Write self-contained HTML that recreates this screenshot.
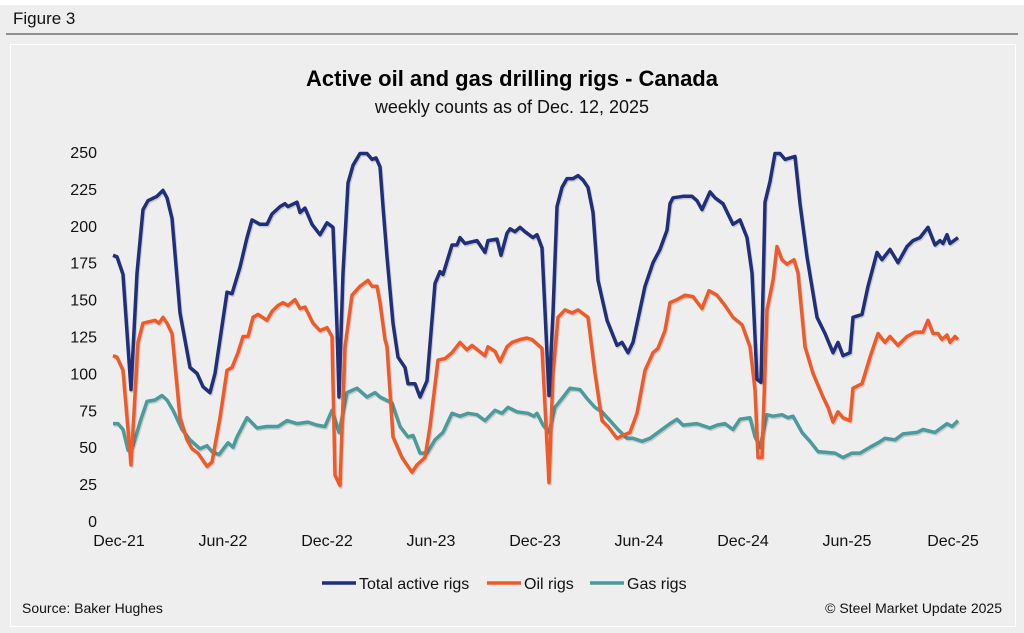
<!DOCTYPE html>
<html><head><meta charset="utf-8"><style>
html,body{margin:0;padding:0;background:#fff;}
#root{position:relative;width:1024px;height:633px;overflow:hidden;font-family:"Liberation Sans",Arial,sans-serif;}
</style></head><body>
<div id="root">
<svg id="chart" width="1024" height="633" xmlns="http://www.w3.org/2000/svg">
<rect x="0" y="5" width="1024" height="628" fill="#eeeeee"/>
<text x="13" y="24" font-size="17" fill="#111">Figure 3</text>
<line x1="6" y1="34" x2="1018" y2="34" stroke="#333" stroke-width="1"/>
<rect x="10.5" y="44.5" width="1005" height="582" fill="#eeeeee" stroke="#ffffff" stroke-width="1"/>
<text x="512" y="86" font-size="22" font-weight="bold" text-anchor="middle" fill="#000">Active oil and gas drilling rigs - Canada</text>
<text x="512" y="113" font-size="18" text-anchor="middle" fill="#111">weekly counts as of Dec. 12, 2025</text>
<g id="yaxis"></g>
<g id="xaxis"></g>
<g id="series"></g>
<g>
<line x1="322" y1="583" x2="356" y2="583" stroke="#1f2f7a" stroke-width="3.5"/>
<text x="359" y="589" font-size="16" fill="#111">Total active rigs</text>
<line x1="487" y1="583" x2="521" y2="583" stroke="#f05a28" stroke-width="3.5"/>
<text x="524" y="589" font-size="16" fill="#111">Oil rigs</text>
<line x1="590" y1="583" x2="624" y2="583" stroke="#4b9a9c" stroke-width="3.5"/>
<text x="627" y="589" font-size="16" fill="#111">Gas rigs</text>
</g>
<text x="22" y="613" font-size="14" fill="#111">Source: Baker Hughes</text>
<text x="1002" y="613" font-size="14" text-anchor="end" fill="#111">© Steel Market Update 2025</text>
</svg>
</div>
<script>
const yTicks=[0,25,50,75,100,125,150,175,200,225,250];
const xTickLabels=["Dec-21","Jun-22","Dec-22","Jun-23","Dec-23","Jun-24","Dec-24","Jun-25","Dec-25"];
const xTickWeeks=[0,26,52,78,104,130,156,182,208.5];
const totalWeeks=[-1.5,-0.5,1,3,4.5,6,7.25,9.5,11,12,13.25,15.25,17.75,19.5,21,22.75,24,27,28.25,30.25,32,33.25,35.25,37,38.25,40.25,41.5,42.25,44.5,45.25,46.5,48.25,50.25,52,53.5,54.5,55,56,57.25,58.5,60.25,62,63.25,64.25,65.25,66,67,68.5,69.75,71.5,72.25,74,75.25,77,79,80.25,81,83.25,84.5,85.25,86.5,89.5,91.5,92.25,94.5,95.5,97,97.75,99,100.25,101.5,103.5,104.5,105.75,107.5,108.5,109.5,110.75,112,113.5,114.75,116,117.25,118.5,119.75,122,124.5,125.75,127.25,128.5,131.5,133.5,135.25,137,137.75,138.5,141,143.25,144.5,145.75,147.75,149,151,153.5,155.25,157,158.25,159.5,160.5,161.5,162.75,164,165.25,166.5,167.75,169,170.25,172,174.5,176.5,178.5,179.75,181,182.75,183.5,185.75,187.25,189.5,190.75,192.75,194.75,197,198.5,200.25,202.25,204,205.25,206,207,207.75,209.75];
const totalRigs=[180,179,167,89,168,211,217,220,224,219,205,141,104,100,91,87,100,155,154,172,192,204,201,201,208,213,215,213,216,209,212,201,194,202,199,131,84,168,229,241,249,249,245,246,240,213,179,134,111,104,93,93,84,95,161,169,167,187,187,192,188,190,182,190,191,180,195,198,196,199,196,192,194,185,85,141,213,226,232,232,234,231,226,209,163,136,119,121,114,121,159,175,184,197,215,219,220,220,217,211,223,219,215,201,204,192,168,96,94,216,230,249,249,245,246,247,215,179,138,127,114,121,112,114,138,140,159,182,177,184,175,186,190,192,199,187,190,188,194,188,192];
const oilWeeks=[-1.5,-0.5,1,3,4.75,6,9,10,11,12,13.25,15.25,17,18.25,19.75,21,22,23.25,25.25,27,28.25,29.75,31,32.25,33.5,34.75,37,38.25,39.75,41,42.25,44,45.25,46.5,48.5,50.25,52,53.25,54,55.25,56.5,58.25,60.25,62.25,63.25,64.5,65.25,66.5,67,68.5,70.75,73.25,74.5,76.5,77.75,79.75,81.5,83.25,85.25,87,88.25,91.5,92.25,94,95.25,97,98.25,100.25,102,103.25,105.75,107.5,108.5,109.75,111.5,113.25,114.75,115.75,117.25,119,120.75,122.25,124.5,126,127.75,129.5,131.5,133.5,134.75,136.5,137.75,139.5,141.5,143.5,145.75,147.5,149.5,151.5,153.5,155.75,157.75,159,159.75,160.75,162,163.5,164.5,165.75,167,168.75,169.75,171.5,173.5,176,177.25,178.5,179.75,181,182.75,183.5,185.75,187.75,189.75,191.5,192.75,194.75,197,199,201,202.25,203.5,204.75,205.75,207,207.75,209,209.75];
const oilRigs=[112,111,102,38,121,134,136,134,138,134,127,70,55,49,46,41,37,40,70,102,104,114,125,125,138,140,136,142,146,148,146,150,144,145,134,129,131,125,31,24,118,153,159,163,159,159,148,123,118,57,43,33,38,43,64,109,110,114,121,116,119,112,118,115,108,118,121,123,124,123,117,26,100,138,143,141,143,141,138,100,68,64,56,58,60,73,102,114,117,129,148,150,153,152,144,156,153,146,138,133,118,89,43,43,143,163,186,177,174,177,168,118,100,84,77,67,74,70,68,90,93,111,127,121,125,119,125,128,128,136,127,127,123,126,121,125,123];
const gasWeeks=[-1.5,-0.25,1,2.25,3.5,5.25,7,9,10.75,12,13.5,15.75,17.75,20.25,22,23.25,25,27.25,28.5,29.5,32,34.5,37,39.75,42,44.5,47.25,49.5,51.5,53.25,55,57,59.5,62,64,65.25,66,68.25,70.25,72.25,73.5,75.25,77,79,81,83.25,85.25,87.25,89.5,91.5,94,95.75,97.25,99.5,102.25,103.75,104.5,106,107.5,109,110.75,112.75,115.25,117,119,120.75,122.75,124.75,127,128.5,130.75,132.75,137.75,139.5,141,144.5,147.75,149.5,151.5,153.5,155.25,157.75,159,160.25,162,163.5,165.75,167.25,168.5,170.75,172.75,174.75,179,181,183.25,185.25,187.75,189.75,191.5,194,196,199.5,201,204,207,208.25,209.75];
const gasRigs=[66,66,62,48,51,67,81,82,85,82,75,62,55,49,51,47,45,53,50,57,70,63,64,64,68,66,67,65,64,75,60,87,90,84,87,84,83,80,64,57,58,46,46,55,60,73,71,73,72,68,75,73,77,74,73,71,73,65,60,77,83,90,89,83,77,74,68,62,56,56,54,56,66,69,65,66,63,65,66,62,69,70,57,50,72,71,72,70,71,60,54,47,46,43,46,46,50,53,56,55,59,60,62,60,66,64,68];

const NS="http://www.w3.org/2000/svg";
const X0=119,PXW=4.0,Y0=521,PXV=1.476;
function xScale(w){return X0+w*PXW;}
function yScale(v){return Y0-Math.min(v,250)*PXV;}

const yG=document.getElementById('yaxis');
yTicks.forEach(v=>{
 const t=document.createElementNS(NS,'text');
 t.setAttribute('x',97);t.setAttribute('y',yScale(v)+6);
 t.setAttribute('text-anchor','end');t.setAttribute('font-size','16');t.setAttribute('fill','#111');
 t.textContent=v;
 
 
 yG.appendChild(t);
});
const xG=document.getElementById('xaxis');
xTickLabels.forEach((lab,i)=>{
 const t=document.createElementNS(NS,'text');
 t.setAttribute('x',xScale(xTickWeeks[i]));t.setAttribute('y',546);
 t.setAttribute('text-anchor','middle');t.setAttribute('font-size','16');t.setAttribute('fill','#111');
 t.textContent=lab;
 
 
 xG.appendChild(t);
});
const sG=document.getElementById('series');
function drawLine(ws,vs,color,name){
 const d=ws.map((w,i)=>(i?'L':'M')+xScale(w).toFixed(1)+','+yScale(vs[i]).toFixed(1)).join(' ');
 const sh=document.createElementNS(NS,'path');
 sh.setAttribute('d',d);sh.setAttribute('fill','none');sh.setAttribute('stroke','rgba(0,0,0,0.15)');
 sh.setAttribute('stroke-width','3.5');sh.setAttribute('transform','translate(1,1.5)');sh.setAttribute('stroke-linejoin','round');
 
 
 sG.appendChild(sh);
 const p=document.createElementNS(NS,'path');
 p.setAttribute('d',d);p.setAttribute('fill','none');p.setAttribute('stroke',color);
 p.setAttribute('stroke-width','3.5');p.setAttribute('stroke-linejoin','round');
 
 
 sG.appendChild(p);
}
drawLine(gasWeeks,gasRigs,'#4b9a9c','gas-rigs-line');
drawLine(oilWeeks,oilRigs,'#f05a28','oil-rigs-line');
drawLine(totalWeeks,totalRigs,'#1f2f7a','total-rigs-line');
</script>
</body></html>
